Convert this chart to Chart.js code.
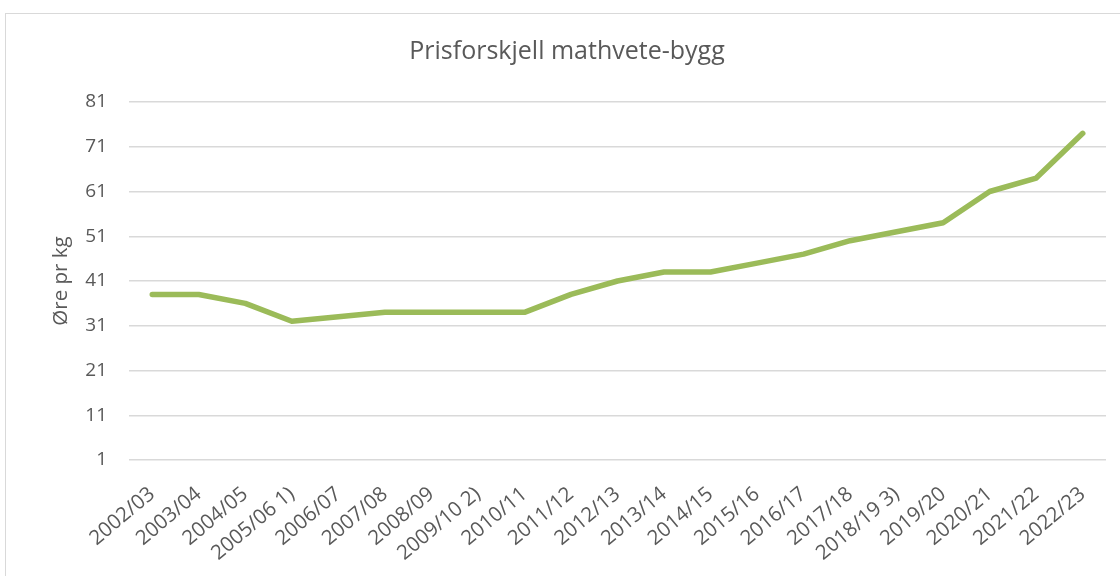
<!DOCTYPE html>
<html lang="no">
<head>
    <meta charset="UTF-8">
    <title>Prisforskjell mathvete-bygg</title>
    <style>
        body {
            margin: 0;
            background: #fff;
            overflow: hidden;
        }
        #frame {
            position: absolute;
            left: 5px;
            top: 13px;
            width: 1200px;
            height: 700px;
            border: 1px solid #d9d9d9;
        }
        #wrap {
            position: absolute;
            left: 0;
            top: 0;
            width: 1120px;
            height: 576px;
        }
    </style>
    <script src="https://cdn.jsdelivr.net/npm/chart.js"></script>
</head>
<body>
<div id="frame"></div>
<div id="wrap"><canvas id="chart"></canvas></div>

<script>
    const seasons = [
        "2002/03", "2003/04", "2004/05", "2005/06 1)", "2006/07", "2007/08", "2008/09",
        "2009/10 2)", "2010/11", "2011/12", "2012/13", "2013/14", "2014/15", "2015/16",
        "2016/17", "2017/18", "2018/19 3)", "2019/20", "2020/21", "2021/22", "2022/23"
    ];
    const priceDiff = [38, 38, 36, 32, 33, 34, 34, 34, 34, 38, 41, 43, 43, 45, 47, 50, 52, 54, 61, 64, 74];
    const yTicks = [1, 11, 21, 31, 41, 51, 61, 71, 81];

    const fontFamily = "'Open Sans', sans-serif";
    const grey = '#595959';

    new Chart(document.getElementById('chart'), {
        type: 'line',
        data: {
            labels: seasons,
            datasets: [{
                label: 'Prisforskjell',
                data: priceDiff,
                borderColor: '#9bbb59',
                borderWidth: 5.5,
                borderCapStyle: 'round',
                borderJoinStyle: 'round',
                pointRadius: 0,
                tension: 0,
                fill: false
            }]
        },
        options: {
            responsive: true,
            maintainAspectRatio: false,
            animation: false,
            // uneven side padding so the title sits where Excel put it
            layout: { padding: { left: 28, right: 14, top: 0, bottom: 0 } },
            plugins: {
                legend: { display: false },
                tooltip: { enabled: false },
                title: {
                    display: true,
                    text: 'Prisforskjell mathvete-bygg',
                    color: grey,
                    font: { family: fontFamily, size: 25, weight: 'normal' },
                    padding: { top: 37, bottom: 35 }
                }
            },
            scales: {
                x: {
                    offset: true,
                    grid: { display: false },
                    border: { display: false },
                    ticks: {
                        autoSkip: false,
                        maxRotation: 40,
                        minRotation: 40,
                        padding: 14,
                        color: grey,
                        font: { family: fontFamily, size: 20.5 }
                    },
                    afterFit: function(scale) { scale.height = 116; }
                },
                y: {
                    min: 1,
                    max: 81,
                    afterBuildTicks: function(scale) {
                        scale.ticks = yTicks.map(v => ({ value: v }));
                    },
                    grid: { color: '#d9d9d9', lineWidth: 1.5, drawTicks: false },
                    border: { display: false },
                    ticks: {
                        padding: 22,
                        color: grey,
                        font: { family: fontFamily, size: 19 }
                    },
                    title: {
                        display: true,
                        text: 'Øre pr kg',
                        color: grey,
                        font: { family: fontFamily, size: 20.5 },
                        padding: { top: 21, bottom: 0 }
                    },
                    afterFit: function(scale) { scale.width = 101; }
                }
            }
        }
    });
</script>
</body>
</html>
